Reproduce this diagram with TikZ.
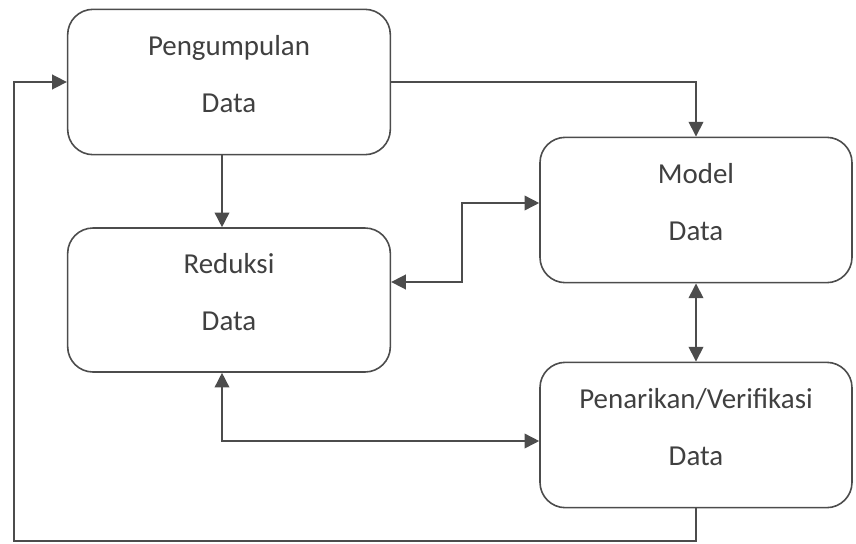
\documentclass[tikz,border=0pt]{standalone}
\usepackage{fontspec}
\setmainfont{Carlito}
\usetikzlibrary{arrows.meta}

\begin{document}
\begin{tikzpicture}[x=0.75pt,y=-0.75pt]
   \tikzstyle{every node}=[text=black!75, font=\fontsize{21.7}{43}\selectfont]
   \tikzstyle{box}=[draw=black!70, line width=1.2pt, rounded corners=19pt, align=center, text depth=12pt]
   \tikzstyle{flow}=[draw=black!70, line width=1.2pt, -{Triangle[length=11pt,width=11pt]}]
   \tikzstyle{both}=[flow, {Triangle[length=11pt,width=11pt]}-{Triangle[length=11pt,width=11pt]}]

\useasboundingbox (0,0) rectangle (856,543);

\node[box, minimum width=242pt, minimum height=109pt] (kumpul) at (229,82) {Pengumpulan\\Data};
\node[box, minimum width=242pt, minimum height=108pt] (reduksi) at (229,300) {Reduksi\\Data};
\node[box, minimum width=234pt, minimum height=109pt] (model) at (696,210) {Model\\Data};
\node[box, minimum width=234pt, minimum height=109pt] (tarik) at (696,435) {Penarikan/Verifikasi\\Data};

\coordinate (sudut) at (14,541);

\draw[flow] (kumpul.east) -| (model.north);
\draw[flow] (kumpul.south -| 222,0) -- (reduksi.north -| 222,0);
\draw[both] (reduksi.east |- 0,282) -| (462,243) |- (model.west |- 0,203);
\draw[both] (model.south) -- (tarik.north);
\draw[both] (reduksi.south -| 222,0) |- (tarik.west |- 0,441);
\draw[flow] (tarik.south) |- (sudut) |- (kumpul.west);

\end{tikzpicture}
\end{document}
